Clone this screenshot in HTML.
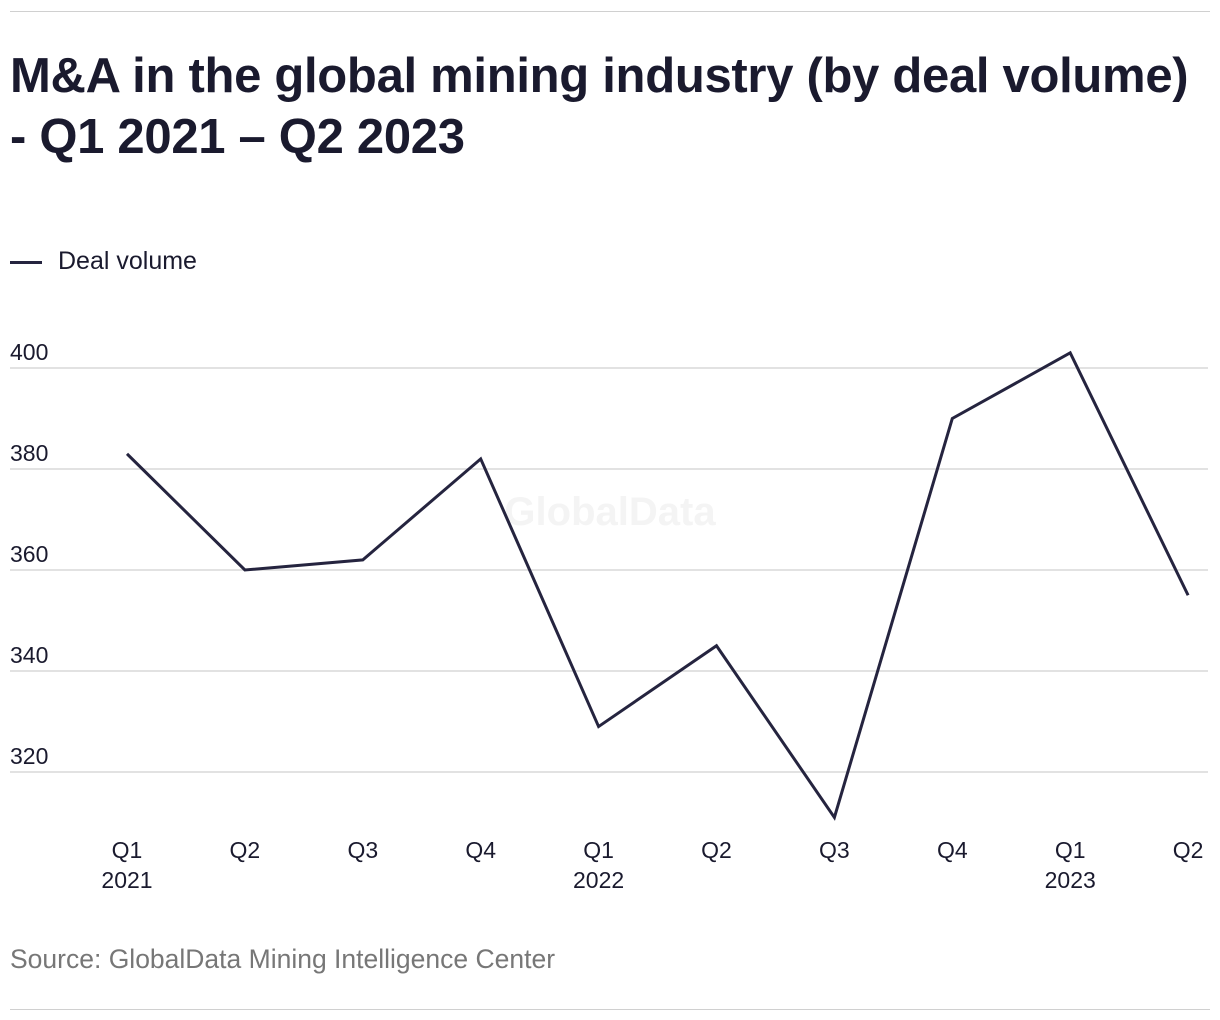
<!DOCTYPE html>
<html><head><meta charset="utf-8"><style>
body{margin:0;width:1220px;height:1020px;background:#fff;font-family:"Liberation Sans",sans-serif;overflow:hidden;position:relative}
.rule{position:absolute;left:10px;width:1200px;height:1px;background:#d0d0d0}
h1{position:absolute;left:10px;top:46px;margin:0;font-size:49px;line-height:61px;font-weight:bold;color:#1a1a2e;letter-spacing:-0.3px}
.legend{position:absolute;left:10px;top:247px;font-size:25px;color:#1a1a2e}
.legend span.sw{display:inline-block;width:32px;height:3px;background:#25243f;vertical-align:middle;margin-right:16px}
.src{position:absolute;left:10px;top:944px;font-size:26.5px;color:#777}
svg{position:absolute;left:0;top:0}
</style></head><body>
<div class="rule" style="top:11px"></div>
<h1>M&amp;A in the global mining industry (by deal volume)<br>- Q1 2021 – Q2 2023</h1>
<div class="legend"><span class="sw"></span>Deal volume</div>
<svg id="chart" width="1220" height="1020">
<text x="610" y="525" text-anchor="middle" font-size="40" font-weight="bold" fill="#f4f4f4" font-family="Liberation Sans">GlobalData</text>
</svg>
<div class="src">Source: GlobalData Mining Intelligence Center</div>
<div class="rule" style="top:1009px"></div>
<script>
const quarters=["Q1","Q2","Q3","Q4","Q1","Q2","Q3","Q4","Q1","Q2"];
const years=["2021","","","","2022","","","","2023",""];
const values=[383,360,362,382,329,345,311,390,403,355];
const yTicks=[320,340,360,380,400];
const ns="http://www.w3.org/2000/svg";
const svg=document.getElementById('chart');
const y=v=>368+(400-v)*5.05;
const x=i=>127+i*117.9;
function mk(t,a){const e=document.createElementNS(ns,t);for(const k in a)e.setAttribute(k,a[k]);return e;}
yTicks.forEach(t=>{
 const g=mk('line',{x1:10,x2:1208,y1:y(t),y2:y(t),stroke:'#d8d8d8','stroke-width':1.5});
 
 
 svg.appendChild(g);
 const l=mk('text',{x:10,y:y(t)-8,'font-size':23,fill:'#1a1a2e','font-family':'Liberation Sans'});
 l.textContent=t;
 
 
 svg.appendChild(l);
});
quarters.forEach((q,i)=>{
 const t=mk('text',{x:x(i),y:858,'text-anchor':'middle','font-size':23,fill:'#1a1a2e','font-family':'Liberation Sans'});
 t.textContent=q;
 
 
 svg.appendChild(t);
 if(years[i]){
  const yl=mk('text',{x:x(i),y:888,'text-anchor':'middle','font-size':23,fill:'#1a1a2e','font-family':'Liberation Sans'});
  yl.textContent=years[i];
  
  
  svg.appendChild(yl);
 }
});
const p=mk('polyline',{points:values.map((v,i)=>x(i)+','+y(v)).join(' '),fill:'none',stroke:'#25243f','stroke-width':3,'stroke-linejoin':'miter'});


svg.appendChild(p);
</script>
</body></html>
